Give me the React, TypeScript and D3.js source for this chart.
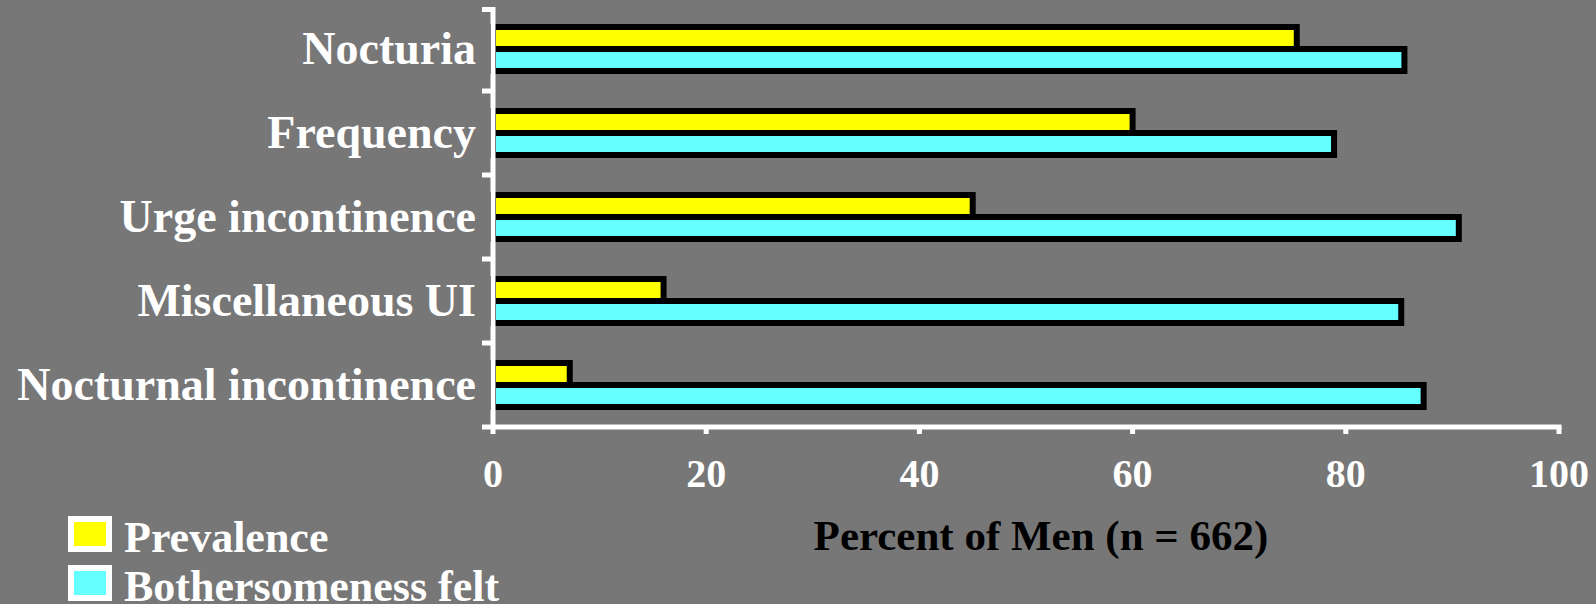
import React from "react";
import * as d3 from "d3";

// Urinary symptoms reported by men, and how many of them found each bothersome
const categories = [
  "Nocturia",
  "Frequency",
  "Urge incontinence",
  "Miscellaneous UI",
  "Nocturnal incontinence",
];
const prevalence = [75.4, 60.0, 45.0, 16.0, 7.2];
const bothersomeness = [85.5, 78.9, 90.6, 85.2, 87.3];
const seriesNames = ["Prevalence", "Bothersomeness felt"];
const seriesColors = ["#ffff00", "#66ffff"];
const xTicks = [0, 20, 40, 60, 80, 100];
const xTitle = "Percent of Men (n = 662)";

const W = 1596;
const H = 604;
const FONT = "'Liberation Serif', 'Times New Roman', serif";

export default function App() {
  const x = d3.scaleLinear().domain([0, 100]).range([493, 1559]);
  const y = d3.scaleBand<string>().domain(categories).range([7, 427]);
  const bw = y.bandwidth();
  const groupH = 44;
  const sub = d3
    .scaleBand<string>()
    .domain(seriesNames)
    .range([(bw - groupH) / 2, (bw + groupH) / 2]);

  const series = [prevalence, bothersomeness];
  const axisY = 427;
  const axisX = x(0);

  return (
    <div style={{ position: "absolute", left: 0, top: 0, width: W, height: H }}>
      <svg
        width={W}
        height={H}
        style={{ display: "block", background: "#777777" }}
        fontFamily={FONT}
      >
        <rect x={0} y={0} width={W} height={H} fill="#777777" />

        {/* bars */}
        {categories.map((c, i) => (
          <g key={c} transform={`translate(0,${y(c)})`}>
            {seriesNames.map((s, j) => (
              <rect
                key={s}
                x={x(0)}
                y={sub(s)}
                width={x(series[j][i]) - x(0)}
                height={sub.bandwidth()}
                fill={seriesColors[j]}
                stroke="#000"
                strokeWidth={6}
              />
            ))}
          </g>
        ))}

        {/* y axis with category boundary ticks */}
        <line x1={axisX} x2={axisX} y1={7} y2={axisY + 2} stroke="#fff" strokeWidth={5} />
        {[...categories.map((c) => y(c) as number), axisY].map((t, i) => (
          <line
            key={i}
            x1={axisX - 11}
            x2={axisX}
            y1={t + (i === 0 ? 2.5 : 0)}
            y2={t + (i === 0 ? 2.5 : 0)}
            stroke="#fff"
            strokeWidth={5}
          />
        ))}

        {/* x axis */}
        <line x1={axisX - 2} x2={x(100) + 2.5} y1={axisY} y2={axisY} stroke="#fff" strokeWidth={5} />
        {xTicks.map((t) => (
          <g key={t}>
            <line x1={x(t)} x2={x(t)} y1={axisY} y2={axisY + 7} stroke="#fff" strokeWidth={5} />
            <text
              x={x(t)}
              y={487}
              textAnchor="middle"
              fill="#fff"
              fontWeight="bold"
              fontSize={40}
            >
              {t}
            </text>
          </g>
        ))}

        {/* category labels */}
        {categories.map((c) => (
          <text
            key={c}
            x={476}
            y={(y(c) as number) + bw / 2 + 15}
            textAnchor="end"
            fill="#fff"
            fontWeight="bold"
            fontSize={46}
          >
            {c}
          </text>
        ))}

        {/* axis title */}
        <text
          x={1041}
          y={550}
          textAnchor="middle"
          fill="#000"
          fontWeight="bold"
          fontSize={43}
        >
          {xTitle}
        </text>

        {/* legend */}
        {seriesNames.map((s, j) => (
          <g key={s} transform={`translate(0,${j * 49})`}>
            <rect x={71} y={519} width={38} height={30} fill={seriesColors[j]} stroke="#fff" strokeWidth={6} />
            <text x={124} y={552} fill="#fff" fontWeight="bold" fontSize={44}>
              {s}
            </text>
          </g>
        ))}
      </svg>
    </div>
  );
}
